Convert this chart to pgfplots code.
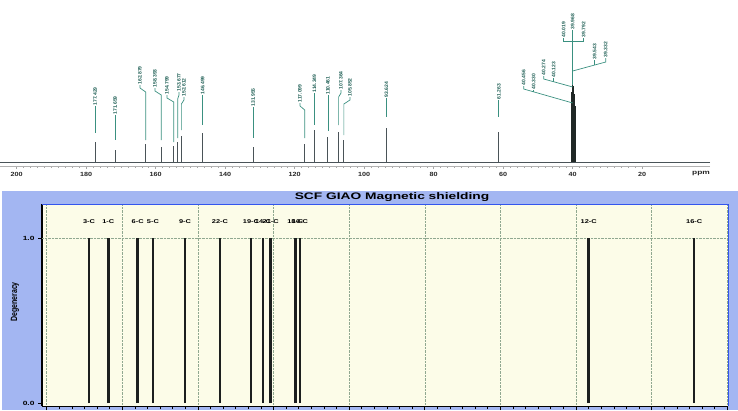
\documentclass[border=0pt]{standalone}
\usepackage{fontspec}
\setmainfont{Liberation Sans}
\usepackage{graphicx}
\usepackage{pgfplots}
\pgfplotsset{compat=1.18}
\definecolor{leader}{HTML}{3A9080}
\definecolor{lbl}{HTML}{1E5E54}
\definecolor{peak}{HTML}{4A5358}
\definecolor{peakdark}{HTML}{202826}
\definecolor{panel}{HTML}{A3B6F2}
\definecolor{cream}{HTML}{FCFCE8}
\definecolor{frame}{HTML}{3355EE}
\definecolor{gridc}{HTML}{90A890}
\definecolor{barc}{HTML}{1C1F1F}
\tikzset{plabel/.style={rotate=90, anchor=west, inner sep=0.4pt, font=\fontsize{5}{5}\selectfont\bfseries, text=lbl},
 blabel/.style={inner sep=0pt, font=\fontsize{5.5}{5.5}\selectfont\bfseries, text=black}}
\newcommand{\pl}[3]{\node[plabel] at (axis cs:#1,#2) {#3};}
\newcommand{\bl}[2]{\node[blabel] at (axis cs:#1,1.097) {\scalebox{1.35}[1]{#2}};}
\pgfplotsset{leader/.style={color=leader, line width=0.7pt, forget plot}}
\begin{document}
\begin{tikzpicture}
\useasboundingbox (0pt,0pt) rectangle (738pt,-410pt);
\fill[panel] (2pt,-191pt) rectangle (738pt,-410pt);
\node[font=\bfseries\fontsize{9.5}{10}\selectfont] at (392pt,-197pt) {\scalebox{1.45}[1]{SCF GIAO Magnetic shielding}};
% ---------------- top: 13C NMR spectrum ----------------
\begin{axis}[at={(0pt,-166pt)}, anchor=south west, scale only axis,
  width=710pt, height=166pt, x dir=reverse,
  xmin=0.5, xmax=204.8, ymin=-4, ymax=162,
  axis x line=bottom, axis y line=none, clip=false,
  x axis line style={draw=gray!60, line width=0.5pt, -},
  xtick={20,40,...,200}, minor x tick num=9,
  tick align=outside, major tick length=3pt, minor tick length=2pt,
  tick style={gray!70, line width=0.5pt},
  /pgf/number format/assume math mode=true,
  xticklabel style={font=\fontsize{6}{6}\selectfont\bfseries, text=black!85},
  xticklabel={\scalebox{1.2}[1]{\pgfmathprintnumber{\tick}}}]
\addplot[peak, line width=0.5pt] coordinates {(0.5,0) (204.8,0)};
\addplot[ycomb, peak, line width=1.2pt] coordinates {
 (177.429,20) (171.659,12) (162.879,18) (158.393,15) (154.799,16) (153.677,20)
 (152.612,26) (146.499,29) (131.955,15) (117.099,18) (114.349,32) (110.461,25)
 (107.364,30) (105.852,22) (93.624,34) (61.263,30)};
\addplot[ycomb, peakdark, line width=1.2pt] coordinates {
 (40.456,55) (40.330,64) (40.274,70) (40.123,77) (40.019,77) (39.968,77)
 (39.792,76) (39.543,68) (39.332,56)};
% leader lines
\addplot[leader] coordinates {(177.429,56) (177.429,29)};
\addplot[leader] coordinates {(171.659,47) (171.659,22)};
\addplot[leader] coordinates {(164.51,77) (164.51,74) (162.879,70) (162.879,22)};
\addplot[leader] coordinates {(160.20,74) (160.20,71) (158.393,67) (158.393,22)};
\addplot[leader] coordinates {(156.75,67) (156.75,64) (154.799,60) (154.799,20)};
\addplot[leader] coordinates {(153.29,70) (153.29,67) (153.677,63) (153.677,24)};
\addplot[leader] coordinates {(151.86,65) (151.86,62) (152.612,58) (152.612,32)};
\addplot[leader] coordinates {(146.499,67) (146.499,37)};
\addplot[leader] coordinates {(131.955,55) (131.955,24)};
\addplot[leader] coordinates {(118.47,59) (118.47,56) (117.099,52) (117.099,24)};
\addplot[leader] coordinates {(114.349,69) (114.349,37)};
\addplot[leader] coordinates {(110.461,67) (110.461,31)};
\addplot[leader] coordinates {(106.68,72) (106.68,69) (107.364,65) (107.364,37)};
\addplot[leader] coordinates {(104.09,65) (104.09,62) (105.852,58) (105.852,27)};
\addplot[leader] coordinates {(93.624,64) (93.624,45)};
\addplot[leader] coordinates {(61.263,62) (61.263,45)};
\addplot[leader] coordinates {(54.10,76) (54.10,73) (40,59)};
\addplot[leader] coordinates {(51.22,72) (51.22,70.1)};
\addplot[leader] coordinates {(48.34,86) (48.34,83) (40,75)};
\addplot[leader] coordinates {(45.47,84) (45.47,80.3)};
\addplot[leader] coordinates {(42.59,124) (42.59,121) (36.83,121) (36.83,124)};
\addplot[leader] coordinates {(40,132) (40,77)};
\addplot[leader] coordinates {(30.50,104) (30.50,100) (40,91)};
\addplot[leader] coordinates {(33.67,102) (33.67,97)};
% peak labels
\pl{177.429}{56}{177.429}
\pl{171.659}{47}{171.659}
\pl{164.51}{77}{162.879}
\pl{160.20}{74}{158.393}
\pl{156.75}{67}{154.799}
\pl{153.29}{70}{153.677}
\pl{151.86}{65}{152.612}
\pl{146.499}{67}{146.499}
\pl{131.955}{55}{131.955}
\pl{118.47}{59}{117.099}
\pl{114.349}{69}{114.349}
\pl{110.461}{67}{110.461}
\pl{106.68}{72}{107.364}
\pl{104.09}{65}{105.852}
\pl{93.624}{64}{93.624}
\pl{61.263}{62}{61.263}
\pl{54.10}{76}{40.456}
\pl{51.22}{72}{40.330}
\pl{48.34}{86}{40.274}
\pl{45.47}{84}{40.123}
\pl{42.59}{124}{40.019}
\pl{40.0}{132}{39.968}
\pl{36.83}{124}{39.792}
\pl{33.67}{102}{39.543}
\pl{30.50}{104}{39.332}
\node[font=\fontsize{6}{6}\selectfont\bfseries, text=black!85] at (axis cs:3.09,-11) {\scalebox{1.4}[1]{ppm}};
\end{axis}
% ---------------- bottom: GIAO shielding ----------------
\begin{axis}[at={(42pt,-406pt)}, anchor=south west, scale only axis,
  width=686pt, height=202pt,
  xmin=-1.24, xmax=180.19, ymin=-0.0182, ymax=1.206,
  axis background/.style={fill=cream},
  axis x line*=bottom, axis y line*=left, clip=false,
  x axis line style={black, line width=0.8pt, -},
  y axis line style={black, line width=2pt, -},
  xtick={0,20,...,180}, xticklabels={}, minor x tick num=5,
  ytick={0,1}, yticklabels={\scalebox{1.4}[1]{0.0},\scalebox{1.4}[1]{1.0}},
  tick align=outside, major tick length=4pt, minor tick length=3pt,
  tick style={black, line width=0.7pt},
  xmajorgrids, grid style={gridc, densely dotted, line width=0.6pt},
  extra y ticks={1}, extra y tick labels={},
  extra y tick style={grid=major, major tick length=0pt},
  yticklabel style={font=\fontsize{6}{6}\selectfont\bfseries},
  ylabel={\scalebox{1}[1.3]{Degeneracy}},
  ylabel style={font=\fontsize{7}{7}\selectfont\bfseries, at={(axis description cs:-0.0394,0.515)}, anchor=center}]
\addplot[ycomb, barc, line width=2.5pt] coordinates {
 (11.19,1) (16.29,1) (24.07,1) (28.11,1) (36.58,1) (45.82,1) (54.03,1)
 (57.21,1) (59.24,1) (65.75,1) (67.0,1) (143.35,1) (171.24,1)};
\bl{11.19}{3-C}
\bl{16.29}{1-C}
\bl{24.07}{6-C}
\bl{28.11}{5-C}
\bl{36.58}{9-C}
\bl{45.82}{22-C}
\bl{54.03}{19-C}
\bl{57.21}{14-C}
\bl{59.24}{21-C}
\bl{65.75}{18-C}
\bl{67.0}{10-C}
\bl{143.35}{12-C}
\bl{171.24}{16-C}
\draw[frame, line width=1pt] (rel axis cs:0,1) -- (rel axis cs:1,1) -- (rel axis cs:1,0);
\end{axis}
\end{tikzpicture}
\end{document}
